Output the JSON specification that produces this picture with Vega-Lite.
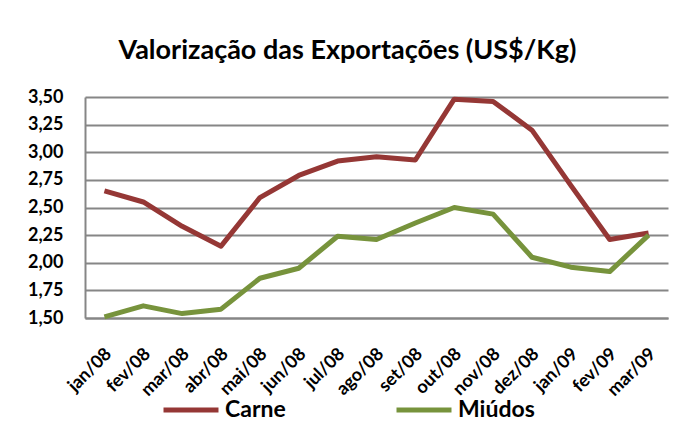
{
  "$schema": "https://vega.github.io/schema/vega-lite/v6.json",
  "width": 583,
  "height": 221,
  "autosize": "none",
  "padding": {"left": 85, "top": 97, "right": 7, "bottom": 104},
  "background": "white",
  "title": {
    "text": "Valorização das Exportações (US$/Kg)",
    "font": "Lato",
    "fontSize": 27,
    "fontWeight": "bold",
    "color": "black",
    "anchor": "middle",
    "dx": -29,
    "offset": 23
  },
  "data": {
    "values": [
      {"mes": "jan/08", "serie": "Carne", "valor": 2.65},
      {"mes": "fev/08", "serie": "Carne", "valor": 2.55},
      {"mes": "mar/08", "serie": "Carne", "valor": 2.33},
      {"mes": "abr/08", "serie": "Carne", "valor": 2.15},
      {"mes": "mai/08", "serie": "Carne", "valor": 2.59},
      {"mes": "jun/08", "serie": "Carne", "valor": 2.79},
      {"mes": "jul/08", "serie": "Carne", "valor": 2.92},
      {"mes": "ago/08", "serie": "Carne", "valor": 2.96},
      {"mes": "set/08", "serie": "Carne", "valor": 2.93},
      {"mes": "out/08", "serie": "Carne", "valor": 3.48},
      {"mes": "nov/08", "serie": "Carne", "valor": 3.46},
      {"mes": "dez/08", "serie": "Carne", "valor": 3.2},
      {"mes": "jan/09", "serie": "Carne", "valor": 2.7},
      {"mes": "fev/09", "serie": "Carne", "valor": 2.21},
      {"mes": "mar/09", "serie": "Carne", "valor": 2.27},
      {"mes": "jan/08", "serie": "Miúdos", "valor": 1.51},
      {"mes": "fev/08", "serie": "Miúdos", "valor": 1.61},
      {"mes": "mar/08", "serie": "Miúdos", "valor": 1.54},
      {"mes": "abr/08", "serie": "Miúdos", "valor": 1.58},
      {"mes": "mai/08", "serie": "Miúdos", "valor": 1.86},
      {"mes": "jun/08", "serie": "Miúdos", "valor": 1.95},
      {"mes": "jul/08", "serie": "Miúdos", "valor": 2.24},
      {"mes": "ago/08", "serie": "Miúdos", "valor": 2.21},
      {"mes": "set/08", "serie": "Miúdos", "valor": 2.36},
      {"mes": "out/08", "serie": "Miúdos", "valor": 2.5},
      {"mes": "nov/08", "serie": "Miúdos", "valor": 2.44},
      {"mes": "dez/08", "serie": "Miúdos", "valor": 2.05},
      {"mes": "jan/09", "serie": "Miúdos", "valor": 1.96},
      {"mes": "fev/09", "serie": "Miúdos", "valor": 1.92},
      {"mes": "mar/09", "serie": "Miúdos", "valor": 2.25}
    ]
  },
  "mark": {"type": "line", "strokeWidth": 5, "strokeJoin": "round"},
  "encoding": {
    "x": {
      "field": "mes",
      "type": "ordinal",
      "sort": null,
      "scale": {"type": "point", "padding": 0.5},
      "axis": {
        "title": null,
        "labelAngle": -45,
        "labelAlign": "right",
        "labelBaseline": "middle",
        "labelFont": "Lato",
        "labelFontSize": 18,
        "labelFontWeight": "bold",
        "labelColor": "black",
        "labelPadding": 33,
        "labelOffset": 4,
        "ticks": false,
        "domainColor": "#868686",
        "domainWidth": 2,
        "grid": false
      }
    },
    "y": {
      "field": "valor",
      "type": "quantitative",
      "scale": {"domain": [1.5, 3.5], "nice": false, "zero": false},
      "axis": {
        "title": null,
        "values": [1.5, 1.75, 2, 2.25, 2.5, 2.75, 3, 3.25, 3.5],
        "format": ".2f",
        "formatType": "number",
        "labelExpr": "replace(datum.label, '.', ',')",
        "labelFont": "Lato",
        "labelFontSize": 18,
        "labelFontWeight": "bold",
        "labelColor": "black",
        "labelPadding": 22,
        "ticks": false,
        "domainColor": "#868686",
        "domainWidth": 2,
        "grid": true,
        "gridColor": "#868686",
        "gridWidth": 2
      }
    },
    "color": {
      "field": "serie",
      "type": "nominal",
      "scale": {"domain": ["Carne", "Miúdos"], "range": ["#953735", "#77933C"]},
      "legend": {
        "title": null,
        "orient": "none",
        "direction": "horizontal",
        "legendX": 94,
        "legendY": 301,
        "symbolType": "M-3,0H3",
        "symbolSize": 336,
        "symbolStrokeWidth": 5,
        "labelFont": "Lato",
        "labelFontSize": 23,
        "labelFontWeight": "bold",
        "labelColor": "black",
        "labelOffset": 22,
        "columnPadding": 100
      }
    }
  },
  "config": {"view": {"stroke": null}}
}
